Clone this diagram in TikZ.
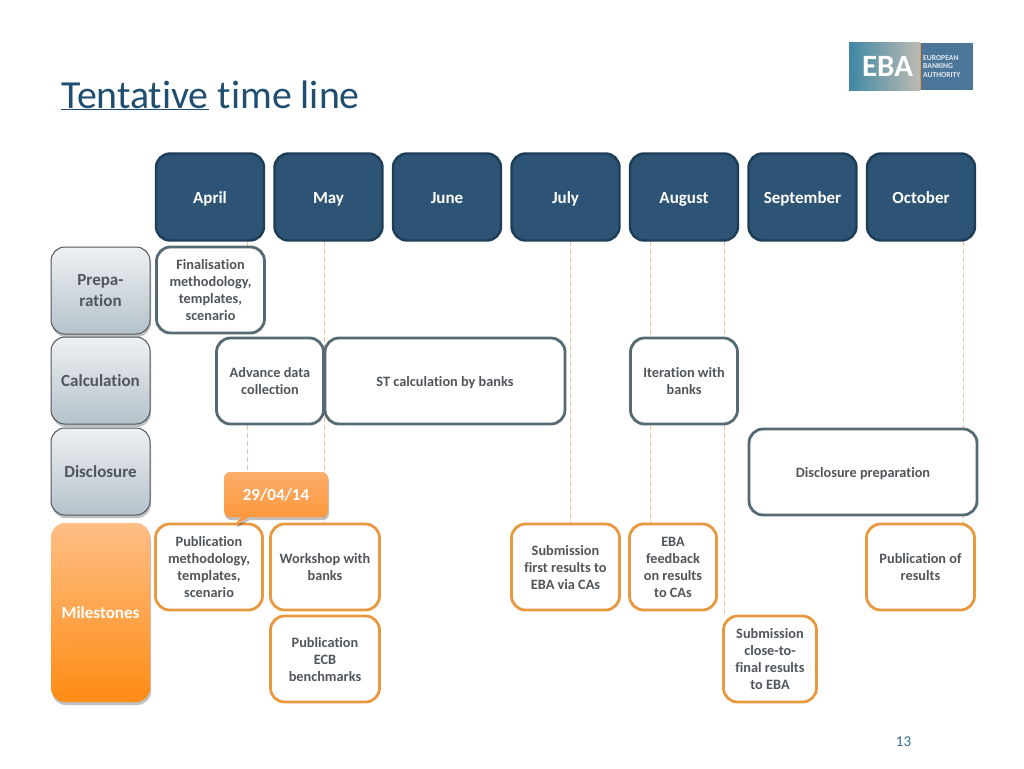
\documentclass[tikz,border=0pt]{standalone}
\usepackage{fontspec}
\setmainfont[Ligatures=CommonOff]{Carlito}
\usetikzlibrary{calc,positioning}
\usetikzlibrary{shapes.callouts,shadows}
\definecolor{ebaNavy}{HTML}{2D5474}
\definecolor{ebaNavyLine}{HTML}{1E3D57}
\definecolor{ebaTitle}{HTML}{1F4E70}
\definecolor{ebaPage}{HTML}{2E6A94}
\definecolor{ebaText}{HTML}{50565B}
\definecolor{ebaSlate}{HTML}{566A73}
\definecolor{ebaOrange}{HTML}{E8983F}
\definecolor{ebaDash}{HTML}{EFBE92}
\definecolor{ebaBand}{HTML}{4C7699}
\definecolor{ebaTeal}{HTML}{3F88A5}
\definecolor{ebaSand}{HTML}{BDBBB2}
\definecolor{rowTop}{HTML}{EEF1F3}
\definecolor{rowBottom}{HTML}{B5C2CA}
\definecolor{mileTop}{HTML}{FFBE85}
\definecolor{mileBottom}{HTML}{FF8C14}
\definecolor{dateTop}{HTML}{FBAE6C}
\definecolor{dateBottom}{HTML}{FF9433}
\tikzset{
	softshadow/.style={drop shadow={shadow xshift=1pt,shadow yshift=-3pt,opacity=.25,fill=black}},
	monthbox/.style={draw=ebaNavyLine,line width=2.4pt,fill=ebaNavy,rounded corners=14pt,text=white,
		minimum width=108pt,minimum height=87pt,inner sep=0pt,text height=13pt,text depth=0.5pt,
		font=\fontsize{17}{20}\selectfont\bfseries},
	rowbox/.style={draw=ebaText,line width=1pt,rounded corners=14pt,top color=rowTop,bottom color=rowBottom,
		softshadow,text=ebaText,minimum width=99pt,minimum height=87pt,inner sep=0pt,align=center,text depth=-2pt,
		font=\fontsize{17}{21}\selectfont\bfseries},
	phasebox/.style={draw=ebaSlate,line width=2.8pt,fill=white,rounded corners=14pt,text=ebaText,inner sep=0pt,
		minimum height=86pt,align=center,text depth=-2pt,font=\fontsize{14.3}{17}\selectfont\bfseries},
	milestonebox/.style={phasebox,draw=ebaOrange},
	dropline/.style={draw=ebaDash,line width=1pt,dash pattern=on 5pt off 3pt},
}
\begin{document}
\begin{tikzpicture}[x=1pt,y=-1pt]
	\useasboundingbox (0,0) rectangle (1024,768);

	% title and logo
	\node[anchor=base west,inner sep=0pt,text=ebaTitle,font=\fontsize{39.8}{42}\selectfont] (title) at (61,108)
		{\underline{Tentative} time line};
	\shade[left color=ebaTeal,right color=ebaSand] (849,43) rectangle (920,90);
	\node[fill=ebaBand,minimum width=53pt,minimum height=47pt,inner sep=0pt] (logoband) at (946.5,66.5) {};
	\fill[ebaOrange] (919.5,43) rectangle (920.5,90);
	\node[text=white,inner sep=0pt,font=\fontsize{31}{31}\selectfont\bfseries] (logoname) at (887.5,66.5) {EBA};
	\node[anchor=west,text=white!85!ebaBand,inner sep=0pt,align=left,font=\fontsize{7.6}{8.5}\selectfont\bfseries] (logotext) at (923,66.5) {EUROPEAN\\BANKING\\AUTHORITY};
	\node[text=ebaPage,inner sep=0pt,font=\fontsize{15}{17}\selectfont] (pagenum) at (903.5,742) {13};

	% dashed drops from the months
	\foreach \i/\x/\yend in {a/247/472,b/324/523,c/570/523,d/650/523,e/724/615,f/963/523}{
		\coordinate (top\i) at (\x,241);
		\coordinate (end\i) at (\x,\yend);
		\draw[dropline] (top\i) -- (end\i);
	}

	% months
	\foreach \name/\x in {April/210,May/328.5,June/447,July/565.5,August/684,September/802.5,October/921}
		\node[monthbox] (\name) at (\x,197) {\name};

	% rows
	\node[rowbox] (prep) at (100.5,290.5) {Prepa-\\ration};
	\node[rowbox] (calc) at (100.5,380.5) {Calculation};
	\node[rowbox] (discl) at (100.5,471.5) {Disclosure};
	\node[rowbox,draw=none,top color=mileTop,bottom color=mileBottom,text=white,
		minimum height=179pt] (miles) at (100.5,612.5) {Milestones};

	% phases
	\node[phasebox,minimum width=108pt] (final) at (210.5,290) {Finalisation\\methodology,\\templates,\\scenario};
	\node[phasebox,minimum width=107pt] (advance) at (270,381) {Advance data\\collection};
	\node[phasebox,minimum width=240pt,text depth=-1pt] (stcalc) at (445,381) {ST calculation by banks};
	\node[phasebox,minimum width=107pt] (iter) at (684,381) {Iteration with\\banks};
	\node[phasebox,minimum width=228pt,text depth=-1pt] (prepdisc) at (863,472) {Disclosure preparation};

	% milestones
	\node[milestonebox,minimum width=107pt] (pubmeth) at (209,567) {Publication\\methodology,\\templates,\\scenario};
	\node[milestonebox,minimum width=109pt] (workshop) at (325,567) {Workshop with\\banks};
	\node[milestonebox,minimum width=109pt] (ecb) at (325,659) {Publication\\ECB\\benchmarks};
	\node[milestonebox,minimum width=108pt] (subfirst) at (565.5,567) {Submission\\first results to\\EBA via CAs};
	\node[milestonebox,minimum width=87pt] (feedback) at (673,567) {EBA\\feedback\\on results\\to CAs};
	\node[milestonebox,minimum width=93pt] (subfinal) at (770,659) {Submission\\close-to-\\final results\\to EBA};
	\node[milestonebox,minimum width=108pt] (pubres) at (920.5,567) {Publication of\\results};

	% date marker
	\node[rectangle callout,callout absolute pointer={(233,526)},rounded corners=6pt,
		top color=dateTop,bottom color=dateBottom,softshadow,text=white,
		minimum width=104pt,minimum height=45pt,inner sep=0pt,text depth=0pt,
		font=\fontsize{17}{20}\selectfont\bfseries] (datemark) at (276,494.5) {29/04/14};
\end{tikzpicture}
\end{document}
